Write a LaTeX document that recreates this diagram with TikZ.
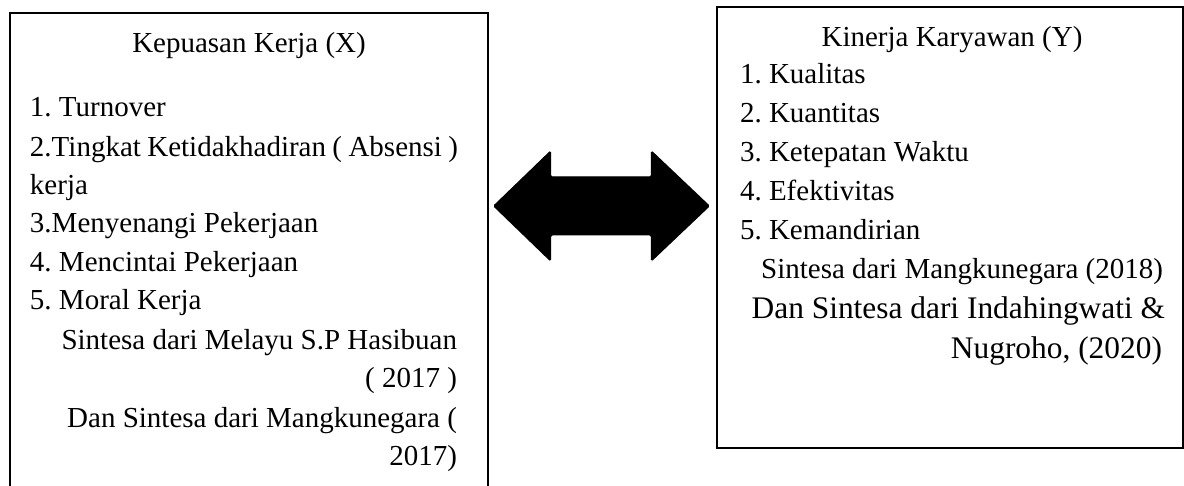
\documentclass[tikz,border=0pt]{standalone}
\usepackage{fontspec}
\setmainfont{Liberation Serif}
\usetikzlibrary{fit,calc}
\frenchspacing
\tikzset{
  boxline/.style={draw=black, line width=1.3pt, inner sep=0pt, fill=none},
  txt/.style={inner sep=0pt, outer sep=0pt, font=\frenchspacing\fontsize{29}{35}\selectfont},
  txtbig/.style={inner sep=0pt, outer sep=0pt, font=\frenchspacing\fontsize{31.4}{37}\selectfont},
  lefttxt/.style={txt, anchor=base west},
  righttxt/.style={txt, anchor=base east},
  bigarrow/.style={fill=black, draw=black, line width=1pt, rounded corners=1.5pt}
}
\begin{document}
\begin{tikzpicture}[x=1pt, y=-1pt]
\useasboundingbox (0,0) rectangle (1184,486);
\clip (0,0) rectangle (1184,486);
\fill[white] (0,0) rectangle (1184,486);
% boxes
\node[boxline, fit={(10,13) (488,520)}] (lbox) {};
\node[boxline, fit={(717,7) (1183,448)}] (rbox) {};
% left box text
\node[txt, anchor=base] (ltitle) at (249,53) {Kepuasan Kerja (X)};
\node[lefttxt] (l1) at (30,117) {1. Turnover};
\node[lefttxt] (l2) at (30,157) {\hbox to 428pt{2.Tingkat Ketidakhadiran ( Absensi )}};
\node[lefttxt] (l2b) at (30,195) {kerja};
\node[lefttxt] (l3) at (30,233) {3.Menyenangi Pekerjaan};
\node[lefttxt] (l4) at (30,272) {4. Mencintai Pekerjaan};
\node[lefttxt] (l5) at (30,310) {5. Moral Kerja};
\node[righttxt] (ls1) at (457,350) {Sintesa dari Melayu S.P Hasibuan};
\node[righttxt] (ls2) at (457,388) {( 2017 )};
\node[righttxt] (ls3) at (457,427) {Dan Sintesa dari Mangkunegara (};
\node[righttxt] (ls4) at (457,465) {2017)};
% right box text
\node[txt, anchor=base] (rtitle) at (952,47) {Kinerja Karyawan (Y)};
\node[lefttxt] (r1) at (740,84) {1. Kualitas};
\node[lefttxt] (r2) at (740,123) {2. Kuantitas};
\node[lefttxt] (r3) at (740,162) {3. Ketepatan Waktu};
\node[lefttxt] (r4) at (740,201) {4. Efektivitas};
\node[lefttxt] (r5) at (740,240) {5. Kemandirian};
\node[righttxt] (rs1) at (1163,279) {Sintesa dari Mangkunegara (2018)};
\node[txtbig, anchor=base east] (rs2) at (1165,319) {Dan Sintesa dari Indahingwati \&};
\node[txtbig, anchor=base east] (rs3) at (1162,359) {Nugroho, (2020)};
% double arrow between the boxes
\coordinate (ltip) at ($(lbox.east |- 0,206)+(5,0)$);
\coordinate (rtip) at ($(rbox.west |- 0,206)+(-7,0)$);
\draw[bigarrow] (ltip) -- ($(ltip)+(57,-55)$) -- ($(ltip)+(57,-29)$)
  -- ($(rtip)+(-58,-29)$) -- ($(rtip)+(-58,-55)$) -- (rtip)
  -- ($(rtip)+(-58,55)$) -- ($(rtip)+(-58,29)$)
  -- ($(ltip)+(57,29)$) -- ($(ltip)+(57,55)$) -- cycle;
\end{tikzpicture}
\end{document}
